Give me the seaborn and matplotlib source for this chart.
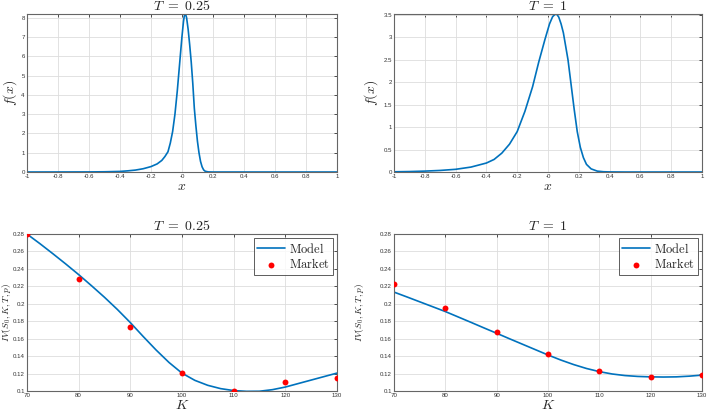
import numpy as np
import pandas as pd
import matplotlib
matplotlib.use("Agg")
import matplotlib.pyplot as plt
import seaborn as sns
from matplotlib.ticker import FuncFormatter

# density f(x), T = 0.25
x_short = [-1, -0.8, -0.6, -0.5, -0.4, -0.35, -0.3, -0.25, -0.2, -0.16, -0.13, -0.11,
           -0.09, -0.075, -0.06, -0.045, -0.03, -0.015, 0, 0.01, 0.015, 0.02, 0.025, 0.03,
           0.04, 0.05, 0.06, 0.07, 0.08, 0.09, 0.1, 0.11, 0.12, 0.13, 0.14, 0.15, 0.17,
           0.2, 1]
f_short = [0, 0.002, 0.005, 0.012, 0.03, 0.06, 0.1, 0.17, 0.28, 0.42, 0.6, 0.8,
           1.05, 1.5, 2.1, 3.0, 4.2, 5.6, 7.0, 7.8, 8.08, 8.19, 8.14, 8.0,
           7.4, 6.6, 5.7, 4.6, 3.3, 2.4, 1.6, 1.0, 0.55, 0.27, 0.11, 0.04, 0.005,
           0.0, 0]

# density f(x), T = 1
x_long = [-1, -0.9, -0.8, -0.7, -0.6, -0.5, -0.4, -0.35, -0.3, -0.25, -0.2, -0.15,
          -0.1, -0.06, -0.02, 0.01, 0.03, 0.045, 0.056, 0.07, 0.085, 0.1, 0.115,
          0.13, 0.15, 0.17, 0.19, 0.21, 0.23, 0.25, 0.28, 0.32, 0.36, 0.4, 0.5, 1]
f_long = [0.005, 0.01, 0.02, 0.035, 0.06, 0.11, 0.2, 0.28, 0.42, 0.62, 0.9, 1.35,
          1.9, 2.45, 2.95, 3.3, 3.46, 3.51, 3.52, 3.45, 3.3, 3.1, 2.8,
          2.5, 1.95, 1.4, 0.9, 0.55, 0.32, 0.17, 0.07, 0.02, 0.006, 0.002, 0, 0]

# implied vol curves
K_model = [70, 72.5, 75, 77.5, 80, 82.5, 85, 87.5, 90, 92.5, 95, 97.5, 100, 102.5,
           105, 107.5, 110, 112.5, 115, 117.5, 120, 122.5, 125, 127.5, 130]
iv_model_short = [0.280, 0.269, 0.2575, 0.2457, 0.2335, 0.2207, 0.2075, 0.1935, 0.1785,
                  0.1625, 0.147, 0.1327, 0.1205, 0.1122, 0.1065, 0.1027, 0.1005, 0.0996,
                  0.0997, 0.1015, 0.1045, 0.1085, 0.1125, 0.1165, 0.1205]
iv_model_long = [0.2134, 0.2079, 0.2023, 0.1967, 0.1911, 0.1849, 0.1787, 0.1724, 0.1662,
                 0.1599, 0.1537, 0.1475, 0.1413, 0.1355, 0.1303, 0.1258, 0.1222, 0.1195,
                 0.1177, 0.1167, 0.1162, 0.1160, 0.1162, 0.1170, 0.1182]

K_market = [70, 80, 90, 100, 110, 120, 130]
iv_market_short = [0.280, 0.2287, 0.1735, 0.1203, 0.1004, 0.1100, 0.1149]
iv_market_long = [0.2226, 0.1954, 0.1682, 0.1421, 0.1234, 0.1157, 0.1180]

sns.set_style("white")
plt.rcParams["font.family"] = ["Liberation Sans", "DejaVu Sans"]
plt.rcParams["mathtext.fontset"] = "cm"

blue = "#0072BD"
fmt = FuncFormatter(lambda v, p: ("%g" % round(v, 6)))


def style(ax, title, xlabel, ylabel, ylab_x, ysize=10):
    ax.set_title(title, fontsize=10, pad=3)
    ax.set_xlabel(xlabel, fontsize=10, labelpad=0)
    ax.set_ylabel(ylabel, fontsize=ysize)
    ax.yaxis.set_label_coords(ylab_x, 0.5)
    ax.grid(True, color="#dddddd", linewidth=0.6)
    ax.set_axisbelow(True)
    for s in ax.spines.values():
        s.set_visible(True)
        s.set_color("#666666")
        s.set_linewidth(0.8)
    ax.tick_params(direction="in", length=2.5, width=0.6, labelsize=4.4,
                   colors="#333333", top=True, right=True, pad=1.5)
    ax.xaxis.set_major_formatter(fmt)
    ax.yaxis.set_major_formatter(fmt)


fig = plt.figure(figsize=(7.09, 4.12), dpi=100)
ax1 = fig.add_axes([0.038, 0.5825, 0.4372, 0.3835])
ax2 = fig.add_axes([0.5557, 0.5825, 0.4344, 0.3835])
ax3 = fig.add_axes([0.038, 0.051, 0.4372, 0.381])
ax4 = fig.add_axes([0.5557, 0.051, 0.4344, 0.381])

sns.lineplot(x=x_short, y=f_short, ax=ax1, color=blue, linewidth=1.2)
ax1.set_xlim(-1, 1)
ax1.set_ylim(0, 8.19)
ax1.set_xticks(np.arange(-1, 1.01, 0.2))
ax1.set_yticks(range(0, 9))
style(ax1, r"$T\ =\ 0.25$", r"$x$", r"$f(x)$", -0.025)

sns.lineplot(x=x_long, y=f_long, ax=ax2, color=blue, linewidth=1.2)
ax2.set_xlim(-1, 1)
ax2.set_ylim(0, 3.52)
ax2.set_xticks(np.arange(-1, 1.01, 0.2))
ax2.set_yticks(np.arange(0, 3.51, 0.5))
style(ax2, r"$T\ =\ 1$", r"$x$", r"$f(x)$", -0.047)

for ax, ivm, ivk, title, lx in [(ax3, iv_model_short, iv_market_short, r"$T\ =\ 0.25$", -0.045),
                                (ax4, iv_model_long, iv_market_long, r"$T\ =\ 1$", -0.09)]:
    sns.lineplot(x=K_model, y=ivm, ax=ax, color=blue, linewidth=1.2,
                 label=r"$\mathrm{Model}$")
    sns.scatterplot(x=K_market, y=ivk, ax=ax, color="red", s=18, linewidth=0,
                    label=r"$\mathrm{Market}$", zorder=3)
    ax.set_xlim(70, 130)
    ax.set_ylim(0.1, 0.28)
    ax.set_xticks(range(70, 131, 10))
    ax.set_yticks(np.arange(0.10, 0.281, 0.02))
    style(ax, title, r"$K$", r"$IV(S_0,K,T,p)$", lx, ysize=6.8)
    leg = ax.legend(loc="upper right", fontsize=9, frameon=True, fancybox=False,
                    borderaxespad=0.35, handlelength=2.2, handletextpad=0.3,
                    borderpad=0.25, labelspacing=0.15)
    leg.get_frame().set_edgecolor("#333333")
    leg.get_frame().set_linewidth(0.7)

fig.savefig("out.png", dpi=100)
